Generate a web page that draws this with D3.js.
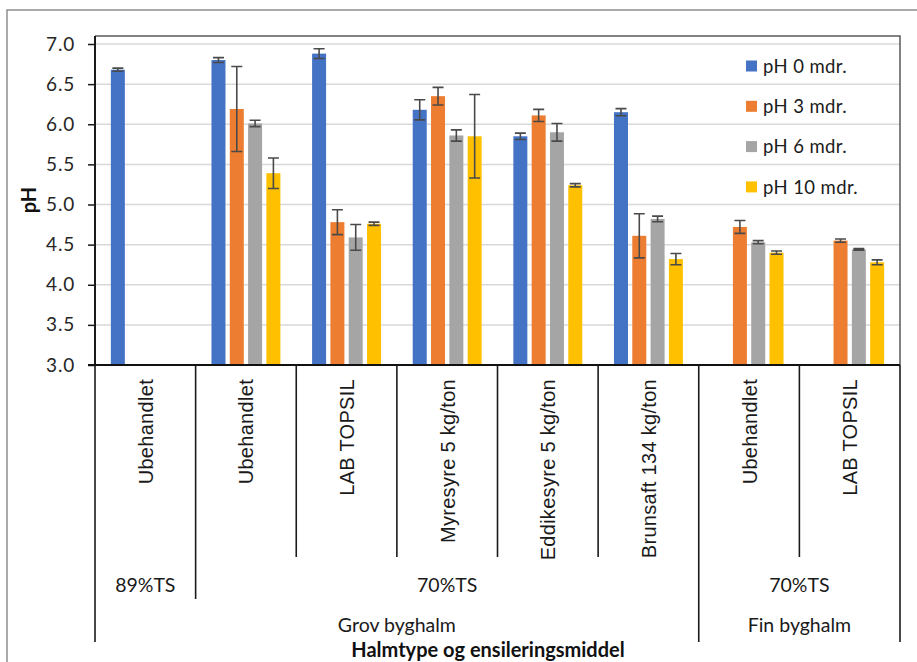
<!DOCTYPE html>
<html>
<head>
<meta charset="utf-8">
<script src="https://cdn.jsdelivr.net/npm/d3@7"></script>
<style>
  html, body { margin: 0; padding: 0; background: #fff; }
  svg { display: block; }
</style>
</head>
<body>
<svg id="chart" width="917" height="662"></svg>
<script>
// Treatments (first axis level), read left to right
const categories = ["Ubehandlet", "Ubehandlet", "LAB TOPSIL", "Myresyre 5 kg/ton",
  "Eddikesyre 5 kg/ton", "Brunsaft 134 kg/ton", "Ubehandlet", "LAB TOPSIL"];
// Dry-matter groups (second level): label, first index, end index
const tsGroups = [["89%TS", 0, 1], ["70%TS", 1, 6], ["70%TS", 6, 8]];
// Straw type groups (third level)
const strawGroups = [["Grov byghalm", 0, 6], ["Fin byghalm", 6, 8]];

const seriesNames = ["pH 0 mdr.", "pH 3 mdr.", "pH 6 mdr.", "pH 10 mdr."];
const ph0  = [6.68, 6.80, 6.88, 6.18, 5.85, 6.15, null, null];
const ph3  = [null, 6.19, 4.78, 6.35, 6.11, 4.61, 4.72, 4.55];
const ph6  = [null, 6.01, 4.59, 5.86, 5.90, 4.82, 4.53, 4.44];
const ph10 = [null, 5.39, 4.76, 5.85, 5.24, 4.32, 4.40, 4.28];
// Standard deviations shown as error bars
const sd0  = [0.02, 0.03, 0.06, 0.125, 0.04, 0.045, null, null];
const sd3  = [null, 0.53, 0.155, 0.11, 0.075, 0.275, 0.08, 0.02];
const sd6  = [null, 0.04, 0.16, 0.07, 0.11, 0.035, 0.02, 0.01];
const sd10 = [null, 0.19, 0.02, 0.52, 0.02, 0.07, 0.02, 0.03];
const yTicks = [3.0, 3.5, 4.0, 4.5, 5.0, 5.5, 6.0, 6.5, 7.0];

const colors = ["#4472C4", "#ED7D31", "#A5A5A5", "#FFC000"];
const values = [ph0, ph3, ph6, ph10];
const sds = [sd0, sd3, sd6, sd10];

const svg = d3.select("#chart");
const plot = { left: 95, right: 900, top: 36, bottom: 365 };
const calibri = "Lato, 'Open Sans', sans-serif";

// Outer chart frame
svg.append("rect")
  .attr("x", 7).attr("y", 10).attr("width", 920).attr("height", 700)
  .attr("fill", "none").attr("stroke", "#8f8f8f").attr("stroke-width", 1.5);

const x = d3.scaleBand().domain(d3.range(categories.length))
  .range([plot.left, plot.right]).padding(0);
const xs = d3.scaleBand().domain(d3.range(seriesNames.length))
  .range([0, x.bandwidth()]).paddingInner(0.235).paddingOuter(0.866);
const y = d3.scaleLinear().domain([3, 7]).range([plot.bottom, 44]);

// Gridlines
svg.append("g").selectAll("line").data(yTicks.slice(1)).join("line")
  .attr("x1", plot.left).attr("x2", plot.right)
  .attr("y1", d => y(d)).attr("y2", d => y(d))
  .attr("stroke", "#d9d9d9").attr("stroke-width", 1.5);

// Plot frame (top and right)
svg.append("path")
  .attr("d", `M${plot.left},${plot.top}H${plot.right}V${plot.bottom}`)
  .attr("fill", "none").attr("stroke", "#5a5a5a").attr("stroke-width", 1.5);

// Bars
const barData = [];
values.forEach((arr, s) => arr.forEach((v, i) => {
  if (v != null) barData.push({ s, i, v, sd: sds[s][i] });
}));
svg.append("g").selectAll("rect").data(barData).join("rect")
  .attr("x", d => x(d.i) + xs(d.s))
  .attr("width", xs.bandwidth())
  .attr("y", d => y(d.v))
  .attr("height", d => y(3) - y(d.v))
  .attr("fill", d => colors[d.s]);

// Error bars
const eb = svg.append("g").attr("stroke", "#4a4a4a").attr("stroke-width", 1.6).attr("fill", "none");
eb.selectAll("path").data(barData.filter(d => d.sd != null)).join("path")
  .attr("d", d => {
    const cx = x(d.i) + xs(d.s) + xs.bandwidth() / 2;
    const y1 = y(d.v + d.sd), y2 = y(d.v - d.sd);
    return `M${cx - 5.5},${y1}H${cx + 5.5}M${cx},${y1}V${y2}M${cx - 5.5},${y2}H${cx + 5.5}`;
  });

// Y axis
const yAxis = d3.axisLeft(y).tickValues(yTicks).tickSize(7).tickPadding(13)
  .tickFormat(d3.format(".1f"));
const gy = svg.append("g").attr("transform", `translate(${plot.left},0)`).call(yAxis);
gy.select(".domain").attr("stroke", "#1a1a1a").attr("stroke-width", 2)
  .attr("d", `M0,${plot.top}V${plot.bottom}`);
gy.selectAll(".tick line").attr("stroke", "#1a1a1a").attr("stroke-width", 1.5);
gy.selectAll(".tick text")
  .attr("font-family", calibri).attr("font-size", 19).attr("fill", "#262626")
  .attr("letter-spacing", 0.8);

// Category axis baseline
svg.append("line")
  .attr("x1", plot.left - 7).attr("x2", plot.right)
  .attr("y1", plot.bottom).attr("y2", plot.bottom)
  .attr("stroke", "#111").attr("stroke-width", 2);

// Multi-level category dividers
const dividers = svg.append("g").attr("stroke", "#1a1a1a").attr("stroke-width", 1.6);
const edges = d3.range(categories.length + 1).map(i =>
  i < categories.length ? x(i) : plot.right);
const strawEdges = new Set(strawGroups.flatMap(g => [g[1], g[2]]));
const tsEdges = new Set(tsGroups.flatMap(g => [g[1], g[2]]));
edges.forEach((ex, i) => {
  let yEnd = 557;
  if (strawEdges.has(i)) yEnd = 642;
  else if (tsEdges.has(i) && i === 1) yEnd = 599;
  dividers.append("line").attr("x1", ex).attr("x2", ex)
    .attr("y1", plot.bottom).attr("y2", yEnd);
});

// Category labels (rotated)
svg.append("g").selectAll("text").data(categories).join("text")
  .attr("transform", (d, i) => `translate(${x(i) + x.bandwidth() / 2 + 7.5},379) rotate(-90)`)
  .attr("text-anchor", "end")
  .attr("font-family", "'Liberation Sans', Arial, sans-serif")
  .attr("font-size", 20).attr("fill", "#1a1a1a").attr("letter-spacing", 0.3)
  .text(d => d);

const groupCenter = g => (edges[g[1]] + edges[g[2]]) / 2;
svg.append("g").selectAll("text").data(tsGroups).join("text")
  .attr("x", groupCenter).attr("y", 592)
  .attr("text-anchor", "middle").attr("font-family", calibri)
  .attr("font-size", 19.5).attr("fill", "#1a1a1a")
  .text(d => d[0]);
svg.append("g").selectAll("text").data(strawGroups).join("text")
  .attr("x", groupCenter).attr("y", 632)
  .attr("text-anchor", "middle").attr("font-family", calibri)
  .attr("font-size", 19.5).attr("fill", "#1a1a1a")
  .text(d => d[0]);

// Axis titles
svg.append("text")
  .attr("x", 488).attr("y", 656.5).attr("text-anchor", "middle")
  .attr("font-family", calibri).attr("font-weight", "bold")
  .attr("font-size", 20).attr("fill", "#111")
  .text("Halmtype og ensileringsmiddel");
svg.append("text")
  .attr("transform", "translate(36,200) rotate(-90)")
  .attr("text-anchor", "middle")
  .attr("font-family", calibri).attr("font-weight", "bold")
  .attr("font-size", 20).attr("fill", "#111")
  .text("pH");

// Legend
const legend = svg.append("g").selectAll("g").data(seriesNames).join("g")
  .attr("transform", (d, i) => `translate(746,${66 + i * 40.3})`);
legend.append("rect").attr("x", 0).attr("y", -5.5).attr("width", 11).attr("height", 11)
  .attr("fill", (d, i) => colors[i]);
legend.append("text").attr("x", 17).attr("y", 0).attr("dy", "0.36em")
  .attr("font-family", calibri).attr("font-size", 18.5).attr("fill", "#1a1a1a")
  .attr("letter-spacing", 0.4)
  .text(d => d);
</script>
</body>
</html>
